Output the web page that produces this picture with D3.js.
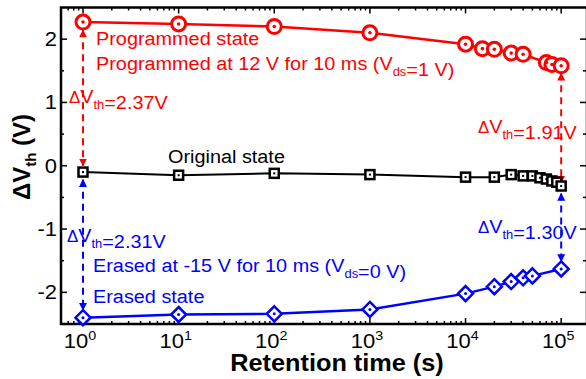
<!DOCTYPE html>
<html>
<head>
<meta charset="utf-8">
<script src="https://cdn.jsdelivr.net/npm/d3@7"></script>
<style>
body { margin: 0; background: #fff; }
svg { font-family: 'Liberation Sans', Arial, sans-serif; }
</style>
</head>
<body>
<div id="chart"></div>
<script>
// retention data

var progTime = [1, 10, 100, 1000, 1e4, 1.5e4, 2e4, 3e4, 4e4, 7e4, 8e4, 1e5];
var progVals = [2.27, 2.24, 2.20, 2.10, 1.92, 1.85, 1.84, 1.78, 1.76, 1.63, 1.60, 1.58];

var origTime = [1, 10, 100, 1000, 1e4, 2e4, 3e4, 4e4, 5e4, 6e4, 7e4, 8e4, 9e4, 1e5];
var origVals = [-0.10, -0.15, -0.12, -0.14, -0.18, -0.18, -0.14, -0.16, -0.16, -0.19, -0.21, -0.24, -0.26, -0.32];

var eraseTime = [1, 10, 100, 1000, 1e4, 2e4, 3e4, 4e4, 5e4, 1e5];
var eraseVals = [-2.40, -2.35, -2.34, -2.27, -2.02, -1.91, -1.83, -1.77, -1.74, -1.63];

var yTicks = [-2, -1, 0, 1, 2];
var xTicks = [1, 10, 100, 1000, 1e4, 1e5];

var width = 586, height = 379;
var red = '#ff0000', blue = '#0000ff';
var sx = 1.1; // text in the original is a bit wide

var svg = d3.select('#chart').append('svg')
	.attr('width', width)
	.attr('height', height);

var x = d3.scaleLog().domain([Math.pow(10, -0.23), Math.pow(10, 5.27)]).range([61, 587]);
var y = d3.scaleLinear().domain([-2.5, 2.5]).range([324, 7.5]);

var defs = svg.append('defs');
function mkArrow(id, col) {
	defs.append('marker')
		.attr('id', id)
		.attr('viewBox', '0 0 10 10')
		.attr('refX', 9).attr('refY', 5)
		.attr('markerWidth', 4).attr('markerHeight', 4.5)
		.attr('markerUnits', 'strokeWidth')
		.attr('orient', 'auto-start-reverse')
		.append('path')
		.attr('d', 'M0,0 L10,5 L0,10 z')
		.attr('fill', col);
}
mkArrow('arR', red);
mkArrow('arB', blue);

function txt(parent, xp, yp, s) {
	return parent.append('text')
		.attr('transform', 'translate(' + xp + ',' + yp + ') scale(' + (s || sx) + ',1)');
}

// axes
var g = svg.append('g');
var xMinor = [];
for (var e = -1; e < 6; e++) {
	for (var k = 2; k < 10; k++) {
		xMinor.push(k * Math.pow(10, e));
	}
}
xMinor = xMinor.filter(function(v){ return x(v) > 62 && x(v) < 586; });

function ticksX(yPos, dir) {
	g.selectAll(null).data(xTicks).enter().append('line')
		.attr('x1', function(d){ return x(d); }).attr('x2', function(d){ return x(d); })
		.attr('y1', yPos).attr('y2', yPos + dir * 6)
		.attr('stroke', '#000').attr('stroke-width', 1.5);
	g.selectAll(null).data(xMinor).enter().append('line')
		.attr('x1', function(d){ return x(d); }).attr('x2', function(d){ return x(d); })
		.attr('y1', yPos).attr('y2', yPos + dir * 3)
		.attr('stroke', '#000').attr('stroke-width', 1.5);
}
ticksX(324, -1);
ticksX(7.5, 1);

var yMinor = [-2.5, -1.5, -0.5, 0.5, 1.5];
function ticksY(xPos, dir) {
	g.selectAll(null).data(yTicks).enter().append('line')
		.attr('x1', xPos).attr('x2', xPos + dir * 6)
		.attr('y1', function(d){ return y(d); }).attr('y2', function(d){ return y(d); })
		.attr('stroke', '#000').attr('stroke-width', 1.5);
	g.selectAll(null).data(yMinor).enter().append('line')
		.attr('x1', xPos).attr('x2', xPos + dir * 3)
		.attr('y1', function(d){ return y(d); }).attr('y2', function(d){ return y(d); })
		.attr('stroke', '#000').attr('stroke-width', 1.5);
}
ticksY(61, 1);
ticksY(586, -1);

g.append('rect')
	.attr('x', 61).attr('y', 7.5)
	.attr('width', 526).attr('height', 316.5)
	.attr('fill', 'none').attr('stroke', '#000').attr('stroke-width', 2.5);

yTicks.forEach(function(d){
	txt(g, 57, y(d) + 7)
		.attr('text-anchor', 'end')
		.attr('font-size', 20)
		.text(d);
});

xTicks.forEach(function(d){
	var t = txt(g, x(d) - 3, 348)
		.attr('text-anchor', 'middle')
		.attr('font-size', 20);
	t.append('tspan').text('10');
	t.append('tspan').attr('dy', -8).attr('font-size', 13).text(Math.round(Math.log10(d)));
});

txt(svg, 337, 371)
	.attr('text-anchor', 'middle')
	.attr('font-size', 23).attr('font-weight', 'bold')
	.text('Retention time (s)');

var yl = svg.append('text')
	.attr('transform', 'translate(30,157) rotate(-90)')
	.attr('text-anchor', 'middle')
	.attr('font-size', 24).attr('font-weight', 'bold');
yl.append('tspan').text('ΔV');
yl.append('tspan').attr('dy', 6).attr('font-size', 15).text('th');
yl.append('tspan').attr('dy', -6).text(' (V)');

// dashed arrows
function arrow(t, v1, v2, col, id) {
	svg.append('line')
		.attr('x1', x(t)).attr('x2', x(t))
		.attr('y1', y(v1)).attr('y2', y(v2))
		.attr('stroke', col).attr('stroke-width', 2)
		.attr('stroke-dasharray', '7,5')
		.attr('marker-start', 'url(#' + id + ')')
		.attr('marker-end', 'url(#' + id + ')');
}
arrow(1, progVals[0] - 0.13, origVals[0] + 0.1, red, 'arR');
arrow(1, origVals[0] - 0.12, eraseVals[0] + 0.12, blue, 'arB');
arrow(1e5, progVals[progVals.length-1] - 0.12, origVals[origVals.length-1] + 0.05, red, 'arR');
arrow(1e5, origVals[origVals.length-1] - 0.12, eraseVals[eraseVals.length-1] + 0.12, blue, 'arB');

// series
function series(times, vals, col, lw) {
	var pts = times.map(function(t, i){ return [t, vals[i]]; });
	svg.append('path')
		.datum(pts)
		.attr('fill', 'none')
		.attr('stroke', col).attr('stroke-width', lw)
		.attr('d', d3.line().x(function(d){ return x(d[0]); }).y(function(d){ return y(d[1]); }));
	return pts;
}

var rp = series(progTime, progVals, red, 2.5);
var op = series(origTime, origVals, '#000', 2);
var ep = series(eraseTime, eraseVals, blue, 2.5);

svg.selectAll('circle.pm').data(rp).enter().append('circle')
	.attr('cx', function(d){ return x(d[0]); }).attr('cy', function(d){ return y(d[1]); })
	.attr('r', 7).attr('fill', '#fff').attr('stroke', red).attr('stroke-width', 3);
svg.selectAll('circle.pd').data(rp).enter().append('circle')
	.attr('cx', function(d){ return x(d[0]); }).attr('cy', function(d){ return y(d[1]); })
	.attr('r', 1.8).attr('fill', red);

svg.selectAll('rect.om').data(op).enter().append('rect')
	.attr('x', function(d){ return x(d[0]) - 4.5; }).attr('y', function(d){ return y(d[1]) - 4.5; })
	.attr('width', 9).attr('height', 9)
	.attr('fill', '#fff').attr('stroke', '#000').attr('stroke-width', 2.5);
svg.selectAll('rect.od').data(op).enter().append('rect')
	.attr('x', function(d){ return x(d[0]) - 1; }).attr('y', function(d){ return y(d[1]) - 1; })
	.attr('width', 2).attr('height', 2)
	.attr('fill', '#000');

svg.selectAll('path.em').data(ep).enter().append('path')
	.attr('transform', function(d){ return 'translate(' + x(d[0]) + ',' + y(d[1]) + ')'; })
	.attr('d', 'M0,-7.5 L7.5,0 L0,7.5 L-7.5,0 Z')
	.attr('fill', '#fff').attr('stroke', blue).attr('stroke-width', 2.5);
svg.selectAll('circle.ed').data(ep).enter().append('circle')
	.attr('cx', function(d){ return x(d[0]); }).attr('cy', function(d){ return y(d[1]); })
	.attr('r', 1.5).attr('fill', blue);

// annotations
function label(xp, yp, col, parts, size) {
	var t = txt(svg, xp, yp, 1.045).attr('fill', col).attr('font-size', size);
	parts.forEach(function(p){
		if (p.sub) {
			t.append('tspan').attr('dy', 6).attr('font-size', size * 0.65).text(p.s);
			t.append('tspan').attr('dy', -6).text('');
		} else if (p.small) {
			t.append('tspan').attr('font-size', size * 0.85).text(p.s);
		} else {
			t.append('tspan').text(p.s);
		}
	});
	return t;
}

label(96, 45, red, [{s: 'Programmed state'}], 19);
label(96, 70, red, [{s: 'Programmed at 12 V for 10 ms (V'}, {s: 'ds', sub: true}, {s: '=1 V)'}], 19);
label(69, 103, red, [{s: 'Δ', small: true}, {s: 'V'}, {s: 'th', sub: true}, {s: '=2.37V'}], 19);
label(478, 133, red, [{s: 'Δ', small: true}, {s: 'V'}, {s: 'th', sub: true}, {s: '=1.91V'}], 19);
label(168, 163, '#000', [{s: 'Original state'}], 19);
label(67, 242, blue, [{s: 'Δ', small: true}, {s: 'V'}, {s: 'th', sub: true}, {s: '=2.31V'}], 19);
label(478, 233, blue, [{s: 'Δ', small: true}, {s: 'V'}, {s: 'th', sub: true}, {s: '=1.30V'}], 19);
label(93, 272, blue, [{s: 'Erased at -15 V for 10 ms (V'}, {s: 'ds', sub: true}, {s: '=0 V)'}], 19);
label(93, 303, blue, [{s: 'Erased state'}], 19);
</script>
</body>
</html>
